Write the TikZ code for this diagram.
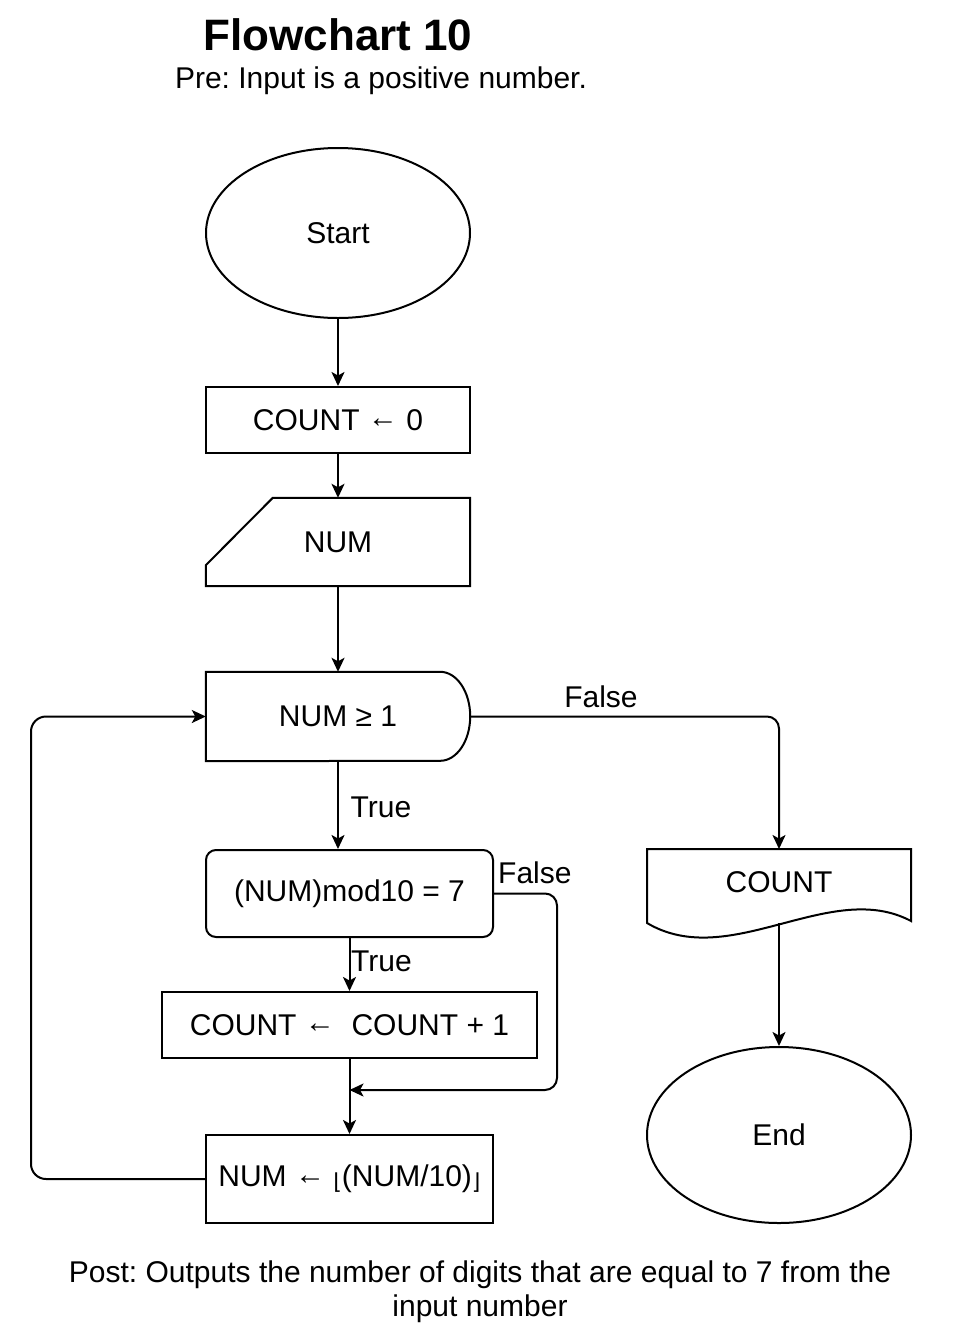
\documentclass[tikz,border=0pt]{standalone}
\usepackage{fontspec}
\setmainfont{Liberation Sans}
\newfontfamily\symfont{DejaVu Sans}
\usetikzlibrary{arrows.meta,shapes.geometric,calc}
\newcommand{\flr}[1]{\raisebox{-3pt}{\symfont\fontsize{22}{22}\selectfont #1}}
\newcommand{\getsarrow}{\raisebox{2.5pt}{←}}
\frenchspacing
\begin{document}
\begin{tikzpicture}[x=1pt,y=-1pt,
  every node/.style={font=\fontsize{30}{34}\selectfont, text=black},
  line/.style={line width=2pt, draw=black},
  arr/.style={line, -{Stealth[length=14pt,width=13pt,inset=3.5pt]}},
  term/.style={ellipse, line, minimum width=264pt, inner sep=0pt},
  procbox/.style={rectangle, line, inner sep=0pt},
  ghost/.style={rectangle, draw=none, inner sep=0pt},
  lbl/.style={inner sep=0pt}]
\useasboundingbox (0,0) rectangle (960,1339);

% headings
\node[lbl, font=\bfseries\fontsize{44}{48}\selectfont] (title) at (338,35) {Flowchart 10};
\node[lbl] (pre) at (381,81) {Pre: Input is a positive number.};

% start and initialisation
\node[term, minimum height=170pt] (start) at (338,233) {Start};
\node[procbox, minimum width=264pt, minimum height=66pt] (init) at (338,420) {COUNT \getsarrow{} 0};

% manual input
\node[ghost, minimum width=264pt, minimum height=88pt] (num) at (338,542) {NUM};
\draw[line] ([xshift=67pt]num.north west) -- (num.north east) -- (num.south east)
  -- (num.south west) -- ([yshift=21pt]num.south west) -- cycle;

% loop test (delay shape)
\node[ghost, minimum width=264pt, minimum height=89pt] (cond) at (338,716.5) {NUM ≥ 1};
\draw[line] (cond.north west) -- ([xshift=-30pt]cond.north east)
  arc[start angle=90, end angle=-90, x radius=30pt, y radius=44.5pt]
  -- (cond.south west) -- cycle;

% digit test
\node[procbox, rounded corners=10pt, minimum width=287pt, minimum height=87pt] (mod) at (349.5,893.5) {(NUM)mod10 = 7};
\node[procbox, minimum width=375pt, minimum height=66pt] (inc) at (349.5,1025) {COUNT \getsarrow\ \ COUNT + 1};
\node[procbox, minimum width=287pt, minimum height=88pt] (div) at (349.5,1179)
  {NUM \getsarrow{} \flr{⌊}(NUM/10)\flr{⌋}};

% output document
\node[ghost, minimum width=264pt, minimum height=66pt] (outdoc) at (779,882) {COUNT};
\coordinate (dnw) at (647,849);
\coordinate (dne) at (911,849);
\coordinate (dse) at (911,921);
\coordinate (dsw) at (647,923);
\draw[line] (dnw) -- (dne) -- (dse) .. controls (830,878) and (730,972) .. (dsw) -- cycle;
\coordinate (docb) at (779,923);

\node[term, minimum height=176pt] (end) at (779,1135) {End};

% helper points for routed connectors
\coordinate (fjoin) at (557,1090);
\coordinate (merge) at (349.5,1090);
\coordinate (lb) at (31,1179);
\coordinate (lt) at (31,716.5);

% connectors
\draw[arr] (start.south) -- (init.north);
\draw[arr] (init.south) -- (num.north);
\draw[arr] (num.south) -- (cond.north);
\draw[arr, rounded corners=12pt] (cond.east) -| (outdoc.north |- dne);
\draw[arr] (cond.south) -- (cond.south |- mod.north);
\draw[arr] (mod.south) -- (inc.north);
\draw[arr, rounded corners=12pt] (mod.east) -| (fjoin) -- (merge);
\draw[arr] (inc.south) -- (div.north);
\draw[arr, rounded corners=15pt] (div.west) -- (lb) -- (lt) -- (cond.west);
\draw[arr] (docb) -- (end.north);

% branch labels
\node[lbl] (f1) at (601,697) {False};
\node[lbl] (t1) at (381,807) {True};
\node[lbl, anchor=west] (f2) at (498,873) {False};
\node[lbl, anchor=west] (t2) at (351,961) {True};

% postcondition
\node[lbl, align=center] (post) at (480,1292)
  {Post: Outputs the number of digits that are equal to 7 from the\\ input number};
\end{tikzpicture}
\end{document}
